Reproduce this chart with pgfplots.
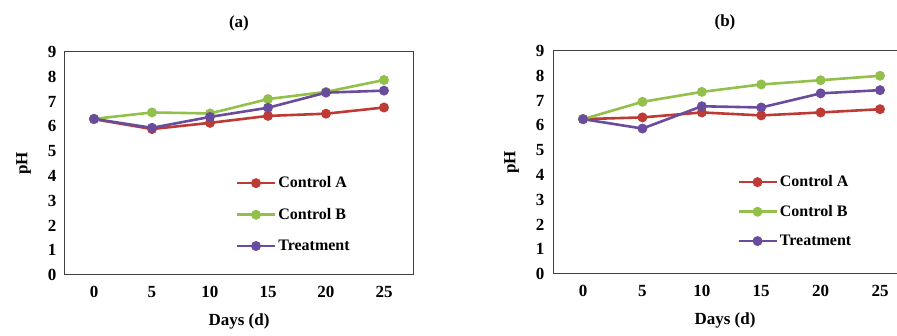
\documentclass[border=0pt]{standalone}
\usepackage{fontspec}
\setmainfont{Liberation Serif}
\usepackage{pgfplots}
\pgfplotsset{compat=1.18}
\definecolor{cA}{HTML}{BE3A34}
\definecolor{cB}{HTML}{92C04A}
\definecolor{cT}{HTML}{6A4C9C}
\pgfplotsset{
  myax/.style={
    scale only axis, height=223pt,
    ymin=0, ymax=9, ytick={0,...,9},
    xtick={0,5,10,15,20,25},
    tick style={draw=none},
    axis line style={draw=black!75, line width=1pt},
    /pgf/number format/assume math mode=true,
    ticklabel style={font=\fontsize{17}{19}\selectfont\bfseries},
    yticklabel style={xshift=-5pt},
    xticklabel style={yshift=-8pt},
    xlabel={Days (d)}, ylabel={pH},
    label style={font=\fontsize{17}{19}\selectfont\bfseries},
    xlabel style={yshift=-9pt},
    ylabel style={yshift=10pt},
    title style={font=\fontsize{17}{19}\selectfont\bfseries, yshift=11pt},
    every axis plot/.append style={line width=2.6pt, mark=*, mark size=3.6pt},
    legend cell align=left,
    legend image code/.code={\draw[#1,mark repeat=2,mark phase=2] plot coordinates {(0pt,0pt) (19pt,0pt) (38pt,0pt)};},
    legend style={draw=none, fill=none, font=\fontsize{16}{18}\selectfont\bfseries, anchor=north west, inner sep=0pt},
  }
}
\begin{document}
\begin{tikzpicture}
\useasboundingbox (0,0) rectangle (897pt,336pt);
\begin{axis}[myax, at={(65pt,61pt)}, anchor=south west, width=348pt,
  xmin=-2.5, xmax=27.5, title={(a)},
  legend style={at={(0.49,0.45)}, row sep=15pt}]
\addplot[color=cA, mark options={fill=cA}] coordinates {(0,6.29) (5,5.89) (10,6.14) (15,6.42) (20,6.51) (25,6.76)};
\addplot[color=cB, mark options={fill=cB}] coordinates {(0,6.30) (5,6.56) (10,6.52) (15,7.10) (20,7.39) (25,7.87)};
\addplot[color=cT, mark options={fill=cT}] coordinates {(0,6.30) (5,5.94) (10,6.38) (15,6.75) (20,7.36) (25,7.44)};
\legend{Control A, Control B, Treatment}
\end{axis}
\begin{axis}[myax, at={(553pt,62pt)}, anchor=south west, width=344pt,
  xmin=-2.53, xmax=26.43, title={(b)},
  legend style={at={(0.535,0.45)}, row sep=13pt}]
\addplot[color=cA, mark options={fill=cA}] coordinates {(0,6.25) (5,6.32) (10,6.52) (15,6.40) (20,6.52) (25,6.65)};
\addplot[color=cB, mark options={fill=cB}] coordinates {(0,6.25) (5,6.95) (10,7.35) (15,7.65) (20,7.82) (25,8.00)};
\addplot[color=cT, mark options={fill=cT}] coordinates {(0,6.25) (5,5.87) (10,6.77) (15,6.72) (20,7.29) (25,7.42)};
\legend{Control A, Control B, Treatment}
\end{axis}
\end{tikzpicture}
\end{document}
